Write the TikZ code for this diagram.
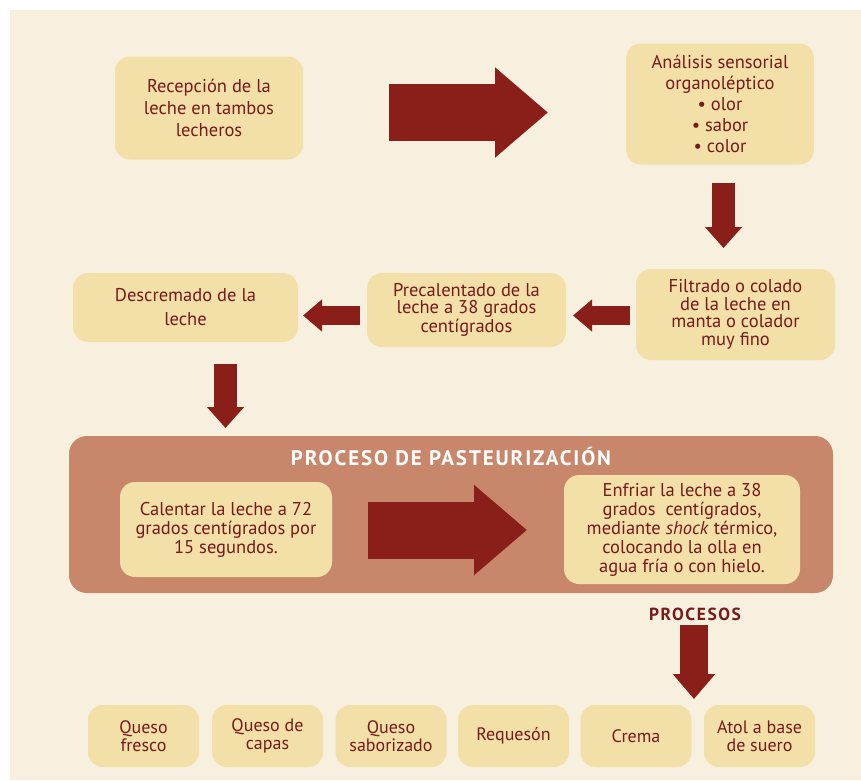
\documentclass[tikz,border=0pt]{standalone}
\usepackage{fontspec}
\setmainfont{PT Sans}
\usetikzlibrary{arrows.meta}

\definecolor{cream}{HTML}{F8F0DE}
\definecolor{boxfill}{HTML}{F2E0A8}
\definecolor{maroon}{HTML}{761A1A}
\definecolor{arrowred}{HTML}{8A1F1A}
\definecolor{pasteur}{HTML}{C8876B}

\begin{document}
\begin{tikzpicture}
		[x=1pt, y=-1pt,
		block/.style ={rectangle, fill=boxfill, text=maroon, align=center, rounded corners=15pt, inner sep=0pt, font=\fontsize{18.5}{20}\selectfont},
		product/.style ={block, minimum width=111pt, minimum height=62pt, font=\fontsize{18}{17.5}\selectfont},
		bigarrow/.style ={draw=arrowred, line width=57pt, -{Triangle[length=53pt, width=87pt]}},
		downarrow/.style ={draw=arrowred, line width=23pt, -{Triangle[length=21pt, width=36pt]}},
		leftarrow/.style ={draw=arrowred, line width=19pt, -{Triangle[length=19pt, width=31pt]}},
		procarrow/.style ={draw=arrowred, line width=28pt, -{Triangle[length=25pt, width=41pt]}},
		]
		\useasboundingbox (0,0) rectangle (861,780);
		\fill[white] (0,0) rectangle (861,780);
		\fill[cream] (10,10) rectangle (861,780);

		% first row
		\draw (209,108) node[block, minimum width=188pt, minimum height=103pt, font=\fontsize{18.5}{22}\selectfont] (REC) {Recepción de la\\leche en tambos\\lecheros};
		\draw (720,104) node[block, minimum width=188pt, minimum height=121pt, font=\fontsize{18.5}{21}\selectfont] (ANA) {Análisis sensorial\\organoléptico\\\textbullet\ olor\\\textbullet\ sabor\\\textbullet\ color};

		% second row
		\draw (735.5,314.5) node[block, minimum width=199pt, minimum height=91pt, font=\fontsize{18.5}{17.5}\selectfont] (FIL) {Filtrado o colado\\de la leche en\\manta o colador\\muy fino};
		\draw (466.5,310) node[block, minimum width=199pt, minimum height=74pt, font=\fontsize{18.5}{17}\selectfont] (PRE) {Precalentado de la\\leche a 38 grados\\centígrados};
		\draw (185.5,307.5) node[block, minimum width=225pt, minimum height=69pt, font=\fontsize{18.5}{24}\selectfont] (DES) {Descremado de la\\leche};

		% pasteurizacion
		\fill[pasteur, rounded corners=18pt] (69,436) rectangle (833,593);
		\draw (451,457) node[text=white, font=\bfseries\fontsize{21}{22}\selectfont\addfontfeature{LetterSpace=9}] (TIT) {PROCESO DE PASTEURIZACIÓN};
		\draw (226,529.5) node[block, minimum width=212pt, minimum height=95pt, font=\fontsize{18.5}{19}\selectfont] (CAL) {Calentar la leche a 72\\grados centígrados por\\15 segundos.};
		\draw (682,529.5) node[block, minimum width=236pt, minimum height=109pt, font=\fontsize{18.5}{19}\selectfont] (ENF) {Enfriar la leche a 38\\grados\ \ centígrados,\\mediante \textit{shock} térmico,\\colocando la olla en\\agua fría o con hielo.};

		% productos
		\draw (695,614) node[text=maroon, font=\bfseries\fontsize{17.5}{18}\selectfont\addfontfeature{LetterSpace=9}] (PROC) {PROCESOS};
		\draw (143.5,736) node[product] (P1) {Queso\\fresco};
		\draw (267.5,736) node[product] (P2) {Queso de\\capas};
		\draw (391,736) node[product] (P3) {Queso\\saborizado};
		\draw (513.5,736) node[product] (P4) {Requesón};
		\draw (636,736) node[product] (P5) {Crema};
		\draw (759.5,736) node[product] (P6) {Atol a base\\de suero};

		% arrow ends
		\coordinate (A1s) at (389,112.5);
		\coordinate (A1e) at (548,112.5);
		\coordinate (A2s) at (723.5,183);
		\coordinate (A2e) at (723.5,248);
		\coordinate (A3s) at (630,315.5);
		\coordinate (A3e) at (573,315.5);
		\coordinate (A4s) at (360,315.5);
		\coordinate (A4e) at (303,315.5);
		\coordinate (A5s) at (225.5,364);
		\coordinate (A5e) at (225.5,428);
		\coordinate (A6s) at (368,530);
		\coordinate (A6e) at (527,530);
		\coordinate (A7s) at (694,625);
		\coordinate (A7e) at (694,699);

		\path[bigarrow] (A1s) -- (A1e);
		\path[downarrow] (A2s) -- (A2e);
		\path[leftarrow] (A3s) -- (A3e);
		\path[leftarrow] (A4s) -- (A4e);
		\path[downarrow] (A5s) -- (A5e);
		\path[bigarrow] (A6s) -- (A6e);
		\path[procarrow] (A7s) -- (A7e);
	\end{tikzpicture}
\end{document}
